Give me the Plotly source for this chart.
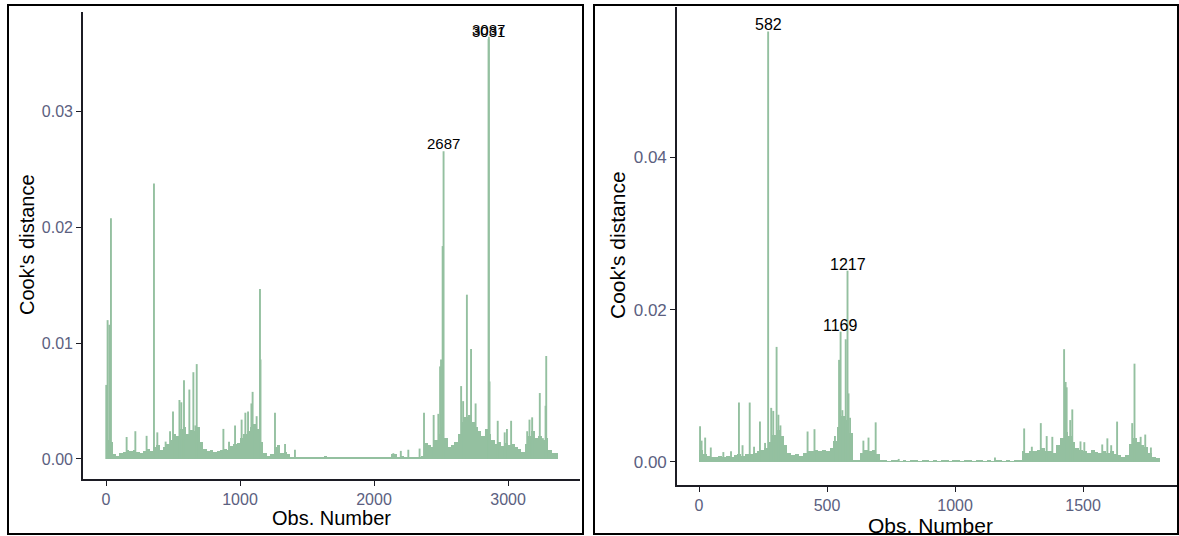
import plotly.graph_objects as go

# ---------------- data ----------------
SCALE = 1e-3  # background values are written in thousandths

# Left panel: dense background (bin start obs, bin width 25)
left_bin_width = 25
left_bin_start = list(range(0, 3375, 25))
left_bg_milli = [
    1.6, 1.5, 0.4, 0.3, 0.5, 0.6, 0.8, 0.7, 0.8, 0.6,
    0.5, 0.7, 0.9, 0.7, 1.0, 1.2, 0.8, 1.0, 1.3, 1.6,
    2.2, 2.0, 2.6, 2.8, 2.2, 2.5, 2.4, 2.8, 1.5, 0.9,
    0.7, 0.8, 0.6, 0.7, 0.8, 0.9, 0.8, 1.1, 1.3, 1.4,
    1.8, 2.2, 2.4, 2.8, 3.0, 2.6, 1.5, 0.5, 0.3, 0.4,
    1.0, 1.2, 0.5, 0.6, 0.4, 0.2, 0.15,
    0.1, 0.1, 0.15, 0.1, 0.2, 0.15, 0.2, 0.15, 0.25, 0.2,
    0.15, 0.1, 0.15, 0.1, 0.2, 0.1, 0.15, 0.2, 0.1, 0.15,
    0.1, 0.2, 0.15, 0.2, 0.15, 0.1, 0.15, 0.2, 0.45, 0.4,
    0.2, 0.3, 0.2, 0.15, 0.1, 0.15, 0.2,
    0.3, 1.4, 1.2, 1.0, 1.6, 2.2, 2.8, 1.8, 1.0, 1.2,
    1.5, 2.2, 3.2, 3.6, 3.8, 3.2, 2.8, 2.4, 2.0, 2.6,
    2.2, 1.6, 1.3, 1.5, 1.1, 1.4, 1.2, 1.3, 1.0, 0.9,
    0.6, 1.3, 2.0, 2.4, 1.8, 2.0, 1.6, 1.8, 0.8, 0.5,
    0.5,
]

# Left panel: individual spikes
left_spike_obs = [2, 12, 25, 37, 154, 219, 303, 358, 383, 445, 478, 500, 548, 562,
                  582, 622, 652, 667, 677, 876, 918, 963, 1012, 1040, 1060, 1085,
                  1094, 1124, 1149, 1153, 1261, 1336, 1410, 2144, 2200, 2256, 2340,
                  2373, 2445, 2480, 2493, 2500, 2512, 2519, 2650, 2665, 2693, 2724,
                  2758, 2855, 2857, 2862, 2923, 2975, 2992, 3023, 3143, 3160, 3180,
                  3237, 3260, 3280, 3285, 3350]
left_spike_val = [0.0064, 0.0120, 0.0116, 0.0208, 0.0019, 0.0024, 0.0020, 0.0238,
                  0.0023, 0.0015, 0.0024, 0.0041, 0.0051, 0.0049, 0.0068, 0.0060,
                  0.0075, 0.0029, 0.0082, 0.0026, 0.0015, 0.0029, 0.0034, 0.0040,
                  0.0041, 0.0048, 0.0058, 0.0037, 0.0147, 0.0086, 0.0040, 0.0013,
                  0.0008, 0.0005, 0.0007, 0.0008, 0.0009, 0.0040, 0.0038, 0.0039,
                  0.0080, 0.0086, 0.0184, 0.0266, 0.0063, 0.0050, 0.0142, 0.0095,
                  0.0048, 0.0363, 0.0365, 0.0067, 0.0033, 0.0023, 0.0026, 0.0033,
                  0.0024, 0.0034, 0.0036, 0.0057, 0.0018, 0.0046, 0.0089, 0.0005]

left_label_text = ["2687", "3087", "3031"]
left_label_obs = [2519, 2857, 2855]
left_label_val = [0.0266, 0.0365, 0.0363]

# Right panel: dense background (bin width 15)
right_bin_width = 15
right_bin_start = list(range(0, 1800, 15))
right_bg_milli = [
    1.6, 1.0, 0.8, 0.6, 0.7, 0.8, 0.7, 0.8, 0.6, 0.9,
    1.0, 0.8, 1.0, 1.1, 1.2, 1.4, 1.6, 1.8, 2.6, 3.6,
    4.2, 3.4, 2.2, 1.2, 0.9, 1.0, 0.8, 1.2, 1.5, 1.4,
    1.6, 1.5, 1.6, 1.4, 1.8, 2.8, 4.6, 6.0, 5.5, 3.8,
    0.2, 0.2, 1.2, 1.6, 1.4, 1.6, 1.0, 0.2,
    0.15, 0.1, 0.15, 0.2, 0.1, 0.15, 0.1, 0.2, 0.15, 0.1,
    0.15, 0.2, 0.1, 0.15, 0.1, 0.2, 0.15, 0.1, 0.2, 0.15,
    0.1, 0.15, 0.2, 0.1, 0.15, 0.2, 0.1, 0.15, 0.1, 0.3,
    0.15, 0.1, 0.15, 0.1, 0.15, 0.2,
    1.4, 1.2, 1.5, 1.4, 1.6, 1.8, 1.5, 1.4, 1.2, 2.2,
    3.2, 4.0, 3.4, 2.6, 1.8, 1.6, 1.4, 1.2, 1.6, 1.3,
    1.2, 1.4, 1.2, 1.5, 1.0, 0.9, 0.7, 0.9, 2.4, 3.2,
    2.6, 2.2, 2.0, 1.2, 0.7, 0.5,
]

right_spike_obs = [4, 10, 24, 46, 95, 125, 156, 170, 198, 215, 238, 258, 270, 282,
                   290, 303, 310, 318, 424, 451, 531, 547, 553, 560, 573, 580, 584,
                   590, 642, 662, 690, 780, 1156, 1270, 1300, 1335, 1358, 1380, 1426,
                   1432, 1436, 1450, 1458, 1490, 1505, 1575, 1595, 1610, 1633, 1692,
                   1701, 1725, 1743, 1765]
right_spike_val = [0.0047, 0.0028, 0.0032, 0.0019, 0.0013, 0.0014, 0.0078, 0.0022,
                   0.0078, 0.0020, 0.0053, 0.0025, 0.0565, 0.0071, 0.0067, 0.0151,
                   0.0062, 0.0048, 0.0040, 0.0043, 0.0034, 0.0134, 0.0171, 0.0068,
                   0.0161, 0.0251, 0.0090, 0.0058, 0.0028, 0.0032, 0.0052, 0.0004,
                   0.0006, 0.0044, 0.0020, 0.0051, 0.0034, 0.0033, 0.0148, 0.0105,
                   0.0098, 0.0055, 0.0069, 0.0027, 0.0026, 0.0023, 0.0031, 0.0022,
                   0.0053, 0.0051, 0.0129, 0.0033, 0.0036, 0.0019]

right_label_text = ["582", "1217", "1169"]
right_label_obs = [270, 580, 553]
right_label_val = [0.0565, 0.0251, 0.0171]

left_x_ticks = [0, 1000, 2000, 3000]
left_y_ticks = [0.00, 0.01, 0.02, 0.03]
right_x_ticks = [0, 500, 1000, 1500]
right_y_ticks = [0.00, 0.02, 0.04]

assert len(left_bin_start) == len(left_bg_milli)
assert len(right_bin_start) == len(right_bg_milli)
assert len(left_spike_obs) == len(left_spike_val)
assert len(right_spike_obs) == len(right_spike_val)

# ---------------- style ----------------
GREEN = "#94c0a0"
TICK_COLOR = "#5b6080"
AXIS_COLOR = "#1c1c24"
FONT = "Liberation Sans, Arial, Helvetica, sans-serif"
W, H = 1179, 536


def segments(xs, ys):
    sx, sy = [], []
    for x, y in zip(xs, ys):
        sx += [x, x, None]
        sy += [0, y, None]
    return sx, sy


fig = go.Figure()

# left panel
fig.add_trace(go.Bar(x=left_bin_start, y=[v * SCALE for v in left_bg_milli],
                     width=left_bin_width, offset=0, marker=dict(color=GREEN, line=dict(width=0)),
                     xaxis="x", yaxis="y", showlegend=False, hoverinfo="skip"))
lx, ly = segments(left_spike_obs, left_spike_val)
fig.add_trace(go.Scatter(x=lx, y=ly, mode="lines", line=dict(color=GREEN, width=1.9),
                         xaxis="x", yaxis="y", showlegend=False, hoverinfo="skip"))

# right panel
fig.add_trace(go.Bar(x=right_bin_start, y=[v * SCALE for v in right_bg_milli],
                     width=right_bin_width, offset=0, marker=dict(color=GREEN, line=dict(width=0)),
                     xaxis="x2", yaxis="y2", showlegend=False, hoverinfo="skip"))
rx, ry = segments(right_spike_obs, right_spike_val)
fig.add_trace(go.Scatter(x=rx, y=ry, mode="lines", line=dict(color=GREEN, width=1.9),
                         xaxis="x2", yaxis="y2", showlegend=False, hoverinfo="skip"))

annotations = []
for t, x, y in zip(left_label_text, left_label_obs, left_label_val):
    annotations.append(dict(text=t, x=x, y=y, xref="x", yref="y", showarrow=False,
                            xanchor="center", yanchor="bottom", yshift=-3,
                            font=dict(size=15, color="black", family=FONT)))
for t, x, y in zip(right_label_text, right_label_obs, right_label_val):
    annotations.append(dict(text=t, x=x, y=y, xref="x2", yref="y2", showarrow=False,
                            xanchor="center", yanchor="bottom", yshift=-4,
                            font=dict(size=16, color="black", family=FONT)))

# axis titles
title_common = dict(xref="paper", yref="paper", showarrow=False, xanchor="center", yanchor="middle")
annotations += [
    dict(text="Cook's distance", x=27 / W, y=1 - 245 / H, textangle=-90,
         font=dict(size=20, color="black", family=FONT), **title_common),
    dict(text="Obs. Number", x=331 / W, y=1 - 518 / H,
         font=dict(size=20, color="black", family=FONT), **title_common),
    dict(text="Cook's distance", x=617 / W, y=1 - 245 / H, textangle=-90,
         font=dict(size=21, color="black", family=FONT), **title_common),
    dict(text="Obs. Number", x=930 / W, y=1 - 525 / H,
         font=dict(size=21, color="black", family=FONT), **title_common),
]

common_axis = dict(showgrid=False, zeroline=False, showline=True, linecolor=AXIS_COLOR,
                   linewidth=1.6, ticks="outside", ticklen=5, tickwidth=1.2, tickcolor=AXIS_COLOR)

fig.update_layout(
    width=W, height=H, margin=dict(l=0, r=0, t=0, b=0),
    paper_bgcolor="white", plot_bgcolor="white", bargap=0,
    font=dict(family=FONT),
    xaxis=dict(domain=[83 / W, 580 / W], range=[-171.6, 3537], tickvals=left_x_ticks,
               ticktext=[str(v) for v in left_x_ticks], anchor="y",
               tickfont=dict(size=16, color=TICK_COLOR), **common_axis),
    yaxis=dict(domain=[1 - 479 / H, 1 - 12 / H], range=[-0.00173, 0.03863], tickvals=left_y_ticks,
               ticktext=[f"{v:.2f}" for v in left_y_ticks], anchor="x",
               tickfont=dict(size=16, color=TICK_COLOR), **common_axis),
    xaxis2=dict(domain=[677 / W, 1177 / W], range=[-86, 1867], tickvals=right_x_ticks,
                ticktext=[str(v) for v in right_x_ticks], anchor="y2",
                tickfont=dict(size=16, color=TICK_COLOR), **common_axis),
    yaxis2=dict(domain=[1 - 485 / H, 1 - 7 / H], range=[-0.00302, 0.0597], tickvals=right_y_ticks,
                ticktext=[f"{v:.2f}" for v in right_y_ticks], anchor="x2",
                tickfont=dict(size=17, color=TICK_COLOR), **common_axis),
    annotations=annotations,
    shapes=[
        dict(type="rect", xref="paper", yref="paper", x0=8 / W, x1=583 / W,
             y0=1 - 534 / H, y1=1 - 5 / H, line=dict(color="black", width=2)),
        dict(type="rect", xref="paper", yref="paper", x0=594 / W, x1=1178 / W,
             y0=1 - 534 / H, y1=1 - 5 / H, line=dict(color="black", width=2)),
    ],
)

fig.write_html("out.html")
